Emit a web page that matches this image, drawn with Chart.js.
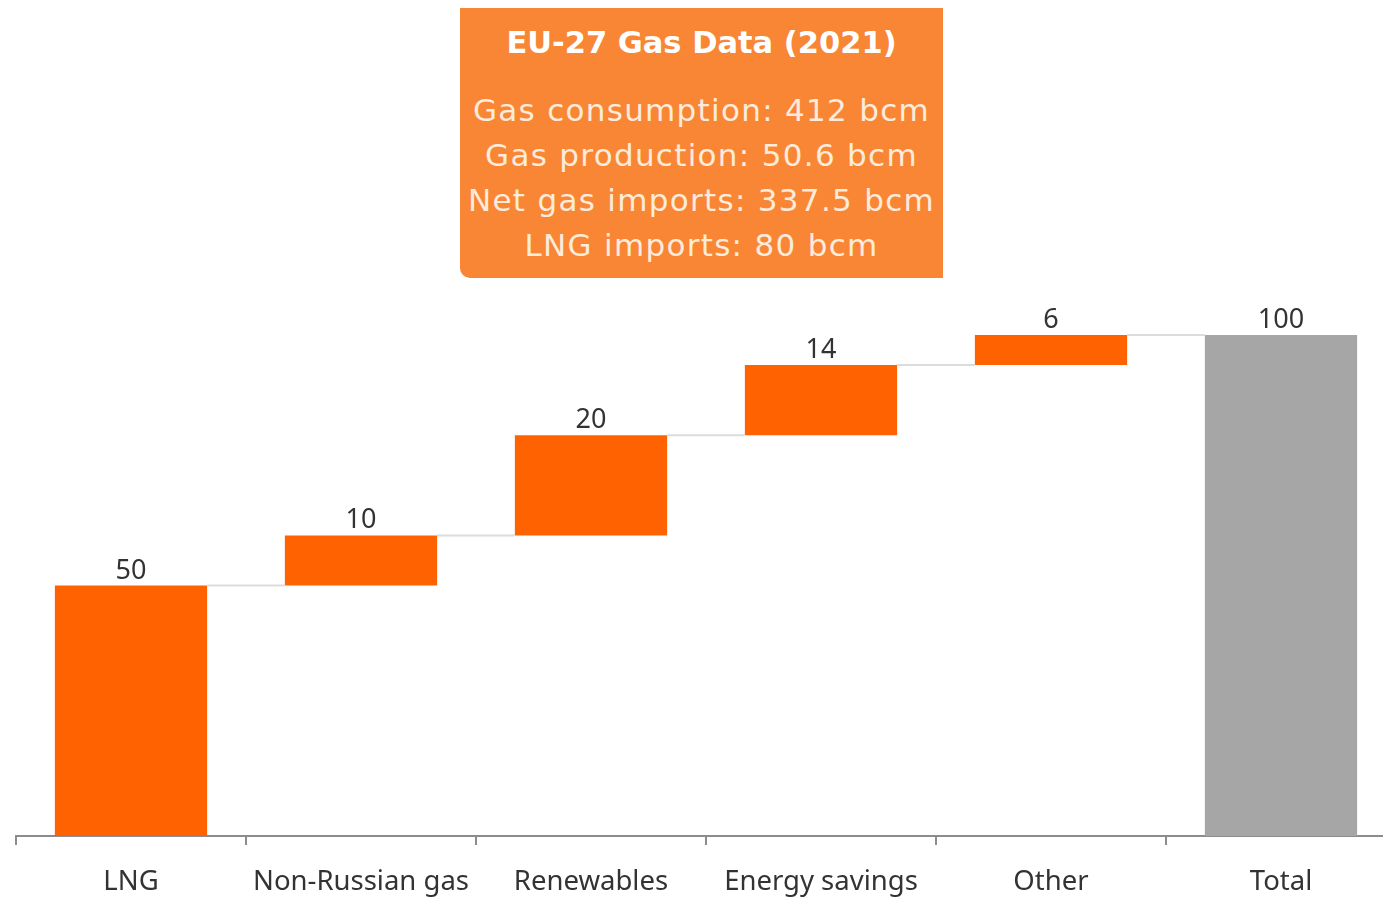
<!DOCTYPE html>
<html>
<head>
<meta charset="utf-8">
<script src="https://cdn.jsdelivr.net/npm/chart.js@4.4.1/dist/chart.umd.min.js"></script>
<style>
    html, body { margin: 0; padding: 0; background: #ffffff; overflow: hidden; }
    #wrap { position: relative; width: 1400px; height: 920px; }
    #box {
        position: absolute; left: 460px; top: 8px; width: 483px; height: 270px;
        background: #f98634; color: #fdebdc; text-align: center;
        font-family: 'DejaVu Sans', sans-serif; border-bottom-left-radius: 10px;
    }
    #box h1 { margin: 17px 0 28px; font-size: 30.5px; font-weight: bold; color: #ffffff; }
    #box p  { margin: 0; font-size: 31px; line-height: 45px; letter-spacing: 1.3px; }
</style>
</head>
<body>
<div id="wrap">
    <canvas id="chart" width="1400" height="920"></canvas>
    <div id="box">
        <h1>EU-27 Gas Data (2021)</h1>
        <p>Gas consumption: 412 bcm</p>
        <p>Gas production: 50.6 bcm</p>
        <p>Net gas imports: 337.5 bcm</p>
        <p>LNG imports: 80 bcm</p>
    </div>
</div>
<script>
// Sustitución del gas ruso: aportes por fuente (bcm) y total
const categories = ['LNG', 'Non-Russian gas', 'Renewables', 'Energy savings', 'Other', 'Total'];
const steps      = [50, 10, 20, 14, 6];
const total      = 100;

const ORANGE = '#ff6200';
const GREY   = '#a6a6a6';

// Barras flotantes: cada paso arranca donde terminó el anterior
const ranges = [];
let acc = 0;
steps.forEach(v => { ranges.push([acc, acc + v]); acc += v; });
ranges.push([0, total]);
const labels = [...steps, total];
const colors = [...steps.map(() => ORANGE), GREY];

// Líneas conectoras entre escalones + valores encima de cada barra
const waterfallPlugin = {
    id: 'waterfall',
    afterDatasetsDraw(chart) {
        const { ctx } = chart;
        const meta = chart.getDatasetMeta(0);
        const y    = chart.scales.y;

        ctx.save();
        ctx.strokeStyle = '#dcdcdc';
        ctx.lineWidth   = 2;
        for (let i = 0; i < meta.data.length - 1; i++) {
            const a = meta.data[i], b = meta.data[i + 1];
            const yy = y.getPixelForValue(ranges[i][1]);
            ctx.beginPath();
            ctx.moveTo(a.x + a.width / 2, yy);
            ctx.lineTo(b.x - b.width / 2, yy);
            ctx.stroke();
        }

        ctx.font         = '27px "Noto Sans", sans-serif';
        ctx.fillStyle    = '#333333';
        ctx.textAlign    = 'center';
        ctx.textBaseline = 'alphabetic';
        meta.data.forEach((bar, i) => {
            ctx.fillText(String(labels[i]), bar.x, y.getPixelForValue(ranges[i][1]) - 7);
        });
        ctx.restore();
    }
};

new Chart(document.getElementById('chart').getContext('2d'), {
    type: 'bar',
    plugins: [waterfallPlugin],
    data: {
        labels: categories,
        datasets: [{
            data: ranges,
            backgroundColor: colors,
            borderWidth: 0,
            barPercentage: 0.662,
            categoryPercentage: 1
        }]
    },
    options: {
        responsive: false,
        animation: false,
        layout: { padding: { left: 16, right: 4, top: 335, bottom: 0 } },
        plugins: { legend: { display: false }, tooltip: { enabled: false } },
        scales: {
            x: {
                offset: true,
                border: { color: '#8c8c8c', width: 2 },
                grid: { drawOnChartArea: false, tickLength: 9, color: '#8c8c8c', lineWidth: 2 },
                ticks: { color: '#333333', padding: 21, font: { family: 'Noto Sans', size: 27.5 } }
            },
            y: {
                display: false,
                min: 0,
                max: 100
            }
        }
    }
});
</script>
</body>
</html>
